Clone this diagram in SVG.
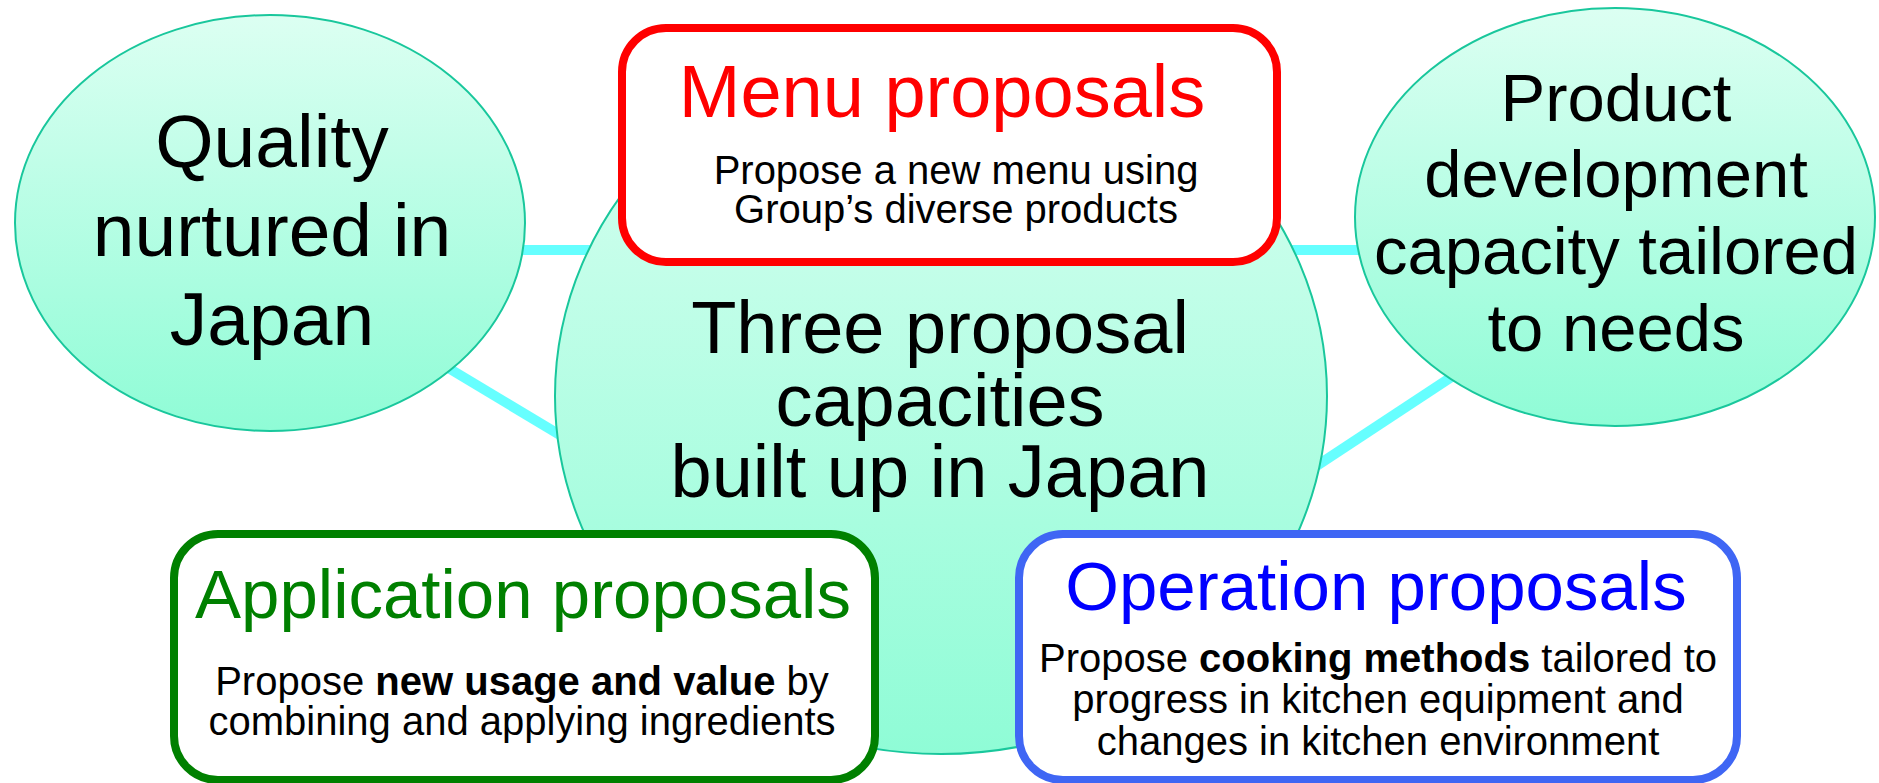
<svg xmlns="http://www.w3.org/2000/svg" width="1879" height="783" viewBox="0 0 1879 783">
  <defs>
    <linearGradient id="mint" x1="0" y1="0" x2="0" y2="1">
      <stop offset="0" stop-color="#dcfff2"/>
      <stop offset="1" stop-color="#8ffcd6"/>
    </linearGradient>
  </defs>
  <style>
    text { font-family: "Liberation Sans", Arial, sans-serif; text-anchor: middle; }
    .bubble { fill: url(#mint); stroke: #19c79c; stroke-width: 2; }
    .link { stroke: #66ffff; stroke-width: 10; fill: none; }
    .card { fill: #ffffff; stroke-width: 8; }
    .big { font-size: 74px; fill: #000000; }
    .note { font-size: 40px; fill: #000000; }
    .b { font-weight: bold; }
  </style>

  <!-- connectors between the circles -->
  <g id="connectors">
    <line class="link" x1="500" y1="250" x2="1400" y2="250"/>
    <line class="link" x1="400" y1="339" x2="600" y2="459"/>
    <line class="link" x1="1280" y1="490" x2="1500" y2="345"/>
  </g>

  <g id="quality">
    <ellipse class="bubble" cx="270" cy="223" rx="255" ry="208"/>
    <text class="big" x="272" y="167" style="font-size:75px">Quality</text>
    <text class="big" x="272" y="256" style="font-size:75px">nurtured in</text>
    <text class="big" x="272" y="345" style="font-size:75px">Japan</text>
  </g>

  <g id="product-development">
    <ellipse class="bubble" cx="1615" cy="217" rx="260" ry="209"/>
    <text class="big" x="1616" y="121" style="font-size:67px">Product</text>
    <text class="big" x="1616" y="197" style="font-size:67px">development</text>
    <text class="big" x="1616" y="274" style="font-size:67px">capacity tailored</text>
    <text class="big" x="1616" y="351" style="font-size:67px">to needs</text>
  </g>

  <g id="three-capacities">
    <ellipse class="bubble" cx="941" cy="396" rx="386" ry="358"/>
    <text class="big" x="940" y="353">Three proposal</text>
    <text class="big" x="940" y="426">capacities</text>
    <text class="big" x="940" y="497">built up in Japan</text>
  </g>

  <g id="menu-proposals">
    <rect class="card" x="622" y="28" width="655" height="234" rx="44" stroke="#ff0000"/>
    <text x="942" y="117" style="font-size:74px" fill="#ff0000">Menu proposals</text>
    <text class="note" x="956" y="184">Propose a new menu using</text>
    <text class="note" x="956" y="223">Group’s diverse products</text>
  </g>

  <g id="application-proposals">
    <rect class="card" x="174" y="534" width="701" height="246" rx="44" stroke="#008000"/>
    <text x="523" y="618" style="font-size:69px" fill="#008000">Application proposals</text>
    <text class="note" x="522" y="695">Propose <tspan class="b">new usage and value</tspan> by</text>
    <text class="note" x="522" y="735">combining and applying ingredients</text>
  </g>

  <g id="operation-proposals">
    <rect class="card" x="1019" y="534" width="718" height="246" rx="44" stroke="#3f66f4"/>
    <text x="1376" y="610" style="font-size:69px" fill="#0000ff">Operation proposals</text>
    <text class="note" x="1378" y="672">Propose <tspan class="b">cooking methods</tspan> tailored to</text>
    <text class="note" x="1378" y="713">progress in kitchen equipment and</text>
    <text class="note" x="1378" y="755">changes in kitchen environment</text>
  </g>
</svg>
